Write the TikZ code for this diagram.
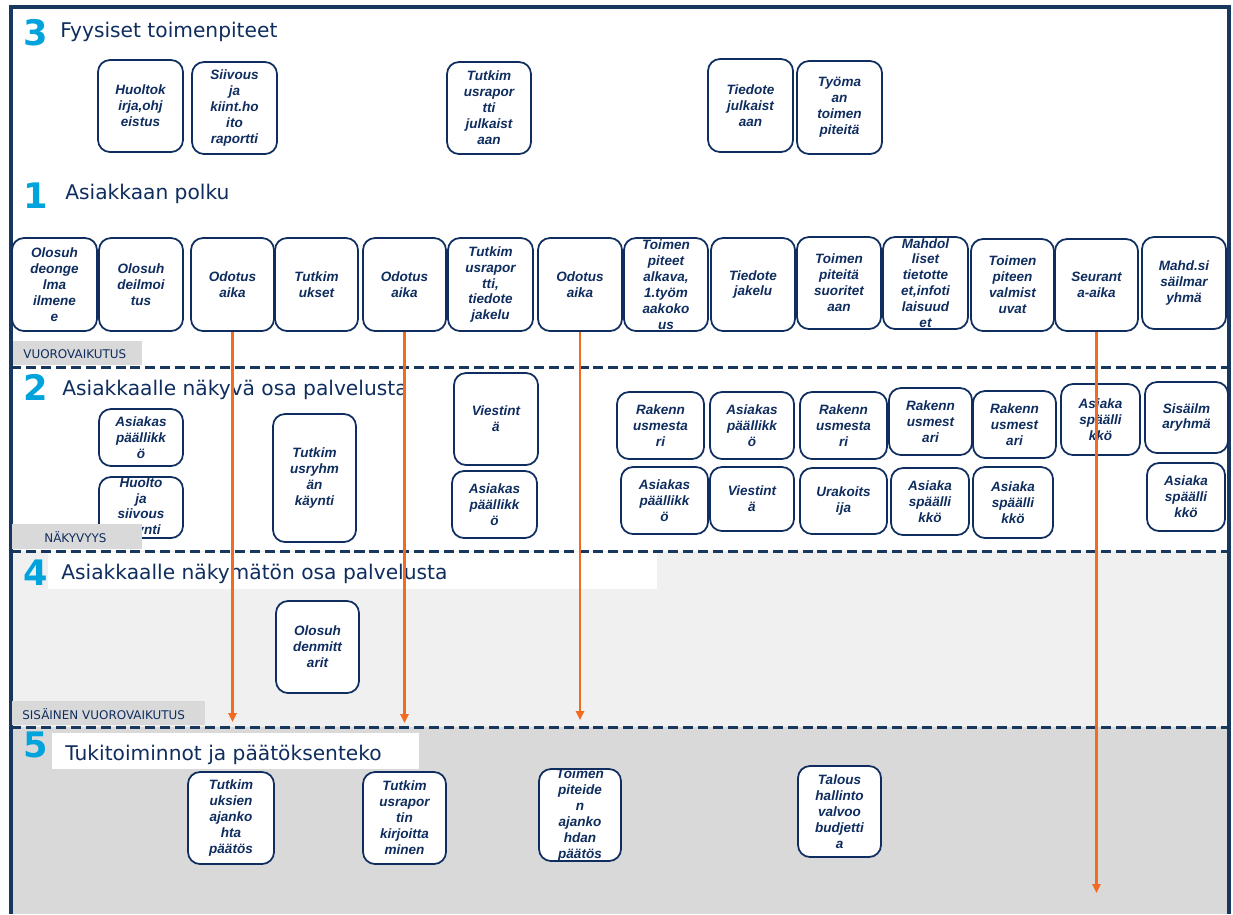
\documentclass[tikz,border=0pt]{standalone}
\usepackage{fontspec}
\setmainfont{Liberation Sans}
\newfontfamily\headfont{DejaVu Sans}
\usetikzlibrary{arrows.meta}

\definecolor{navy}{HTML}{0F2D5E}
\definecolor{framenavy}{HTML}{17375E}
\definecolor{numcyan}{HTML}{00A3DB}
\definecolor{floworange}{HTML}{F26B21}
\definecolor{lanelight}{HTML}{F0F0F0}
\definecolor{lanedark}{HTML}{D9D9D9}
\definecolor{tagfill}{HTML}{D9D9D9}

\tikzset{
  card/.style={draw=navy, line width=1pt, rounded corners=0.24cm, fill=white},
  cardtext/.style={text=navy, align=center, inner sep=0pt,
    font=\fontsize{7.7}{9.07}\selectfont\bfseries\itshape},
  secnum/.style={text=numcyan, inner sep=0pt, anchor=base west,
    font=\headfont\bfseries\fontsize{20}{20}\selectfont},
  sectitle/.style={text=navy, inner sep=0pt, anchor=base west,
    font=\headfont\fontsize{11.5}{12}\selectfont},
  tagtext/.style={text=navy, inner sep=0pt, anchor=base west,
    font=\headfont\fontsize{6.8}{7}\selectfont},
  laneline/.style={draw=framenavy, line width=1.7pt, dash pattern=on 5.7pt off 2.8pt},
  flow/.style={draw=floworange, line width=1.3pt, -{Triangle[length=5pt,width=4.5pt]}}
}

% card: name, x1, y1, x2, y2, text
\newcommand{\boxcard}[6]{%
  \node[card, minimum width={(#4-#2)*0.02cm}, minimum height={(#5-#3)*0.02cm}] (#1) at ({(#2+#4)/2},{(#3+#5)/2}) {};
  \node[cardtext] (#1-t) at (#1.center) {#6};}

\begin{document}
\begin{tikzpicture}[x=0.02cm, y=-0.02cm]
\useasboundingbox (0,0) rectangle (1233,914);
\fill[white] (0,0) rectangle (1233,914);

% lanes
\fill[lanelight] (11,551) rectangle (1229,727);
\fill[lanedark] (11,727) rectangle (1229,914);
\fill[white] (48,552) rectangle (657,589);
\fill[white] (52,733) rectangle (419,769);
\draw[laneline] (11,367) -- (1229,367);
\draw[laneline] (11,551) -- (1229,551);
\draw[laneline] (11,727) -- (1229,727);
\draw[framenavy, line width=1.9pt] (11,914) -- (11,7) -- (1229,7) -- (1229,914);

% headings
\node[secnum] (n3) at (23,45) {3};
\node[sectitle] (t3) at (60,37) {Fyysiset toimenpiteet};
\node[secnum] (n1) at (23,208) {1};
\node[sectitle] (t1) at (65,199) {Asiakkaan polku};
\node[secnum] (n2) at (23,400) {2};
\node[sectitle] (t2) at (62,395) {Asiakkaalle näkyvä osa palvelusta};
\node[secnum] (n4) at (23,585) {4};
\node[sectitle] (t4) at (61,579) {Asiakkaalle näkymätön osa palvelusta};
\node[secnum] (n5) at (23,757) {5};
\node[sectitle] (t5) at (65,760) {Tukitoiminnot ja päätöksenteko};

% 3 Fyysiset toimenpiteet
\boxcard{huolto}{98}{60}{183}{152}{Huoltok\\irja,ohj\\eistus}
\boxcard{siivous}{192}{62}{277}{154}{Siivous\\ja\\kiint.ho\\ito\\raportti}
\boxcard{rapjulk}{447}{62}{531}{154}{Tutkim\\usrapor\\tti\\julkaist\\aan}
\boxcard{tiedjulk}{708}{59}{793}{152}{Tiedote\\julkaist\\aan}
\boxcard{tyomaa}{797}{61}{882}{154}{Työma\\an\\toimen\\piteitä}

% 1 Asiakkaan polku
\boxcard{ongelma}{12}{238}{97}{331}{Olosuh\\deonge\\lma\\ilmene\\e}
\boxcard{ilmoitus}{99}{238}{183}{331}{Olosuh\\deilmoi\\tus}
\boxcard{odotusA}{191}{238}{274}{331}{Odotus\\aika}
\boxcard{tutkim}{275}{238}{358}{331}{Tutkim\\ukset}
\boxcard{odotusB}{363}{238}{446}{331}{Odotus\\aika}
\boxcard{raportti}{448}{238}{533}{331}{Tutkim\\usrapor\\tti,\\tiedote\\jakelu}
\boxcard{odotusC}{538}{238}{622}{331}{Odotus\\aika}
\boxcard{alkava}{624}{238}{708}{331}{Toimen\\piteet\\alkava,\\1.työm\\aakoko\\us}
\boxcard{jakelu}{711}{238}{795}{331}{Tiedote\\jakelu}
\boxcard{suorit}{797}{237}{881}{329}{Toimen\\piteitä\\suoritet\\aan}
\boxcard{infot}{883}{237}{968}{329}{Mahdol\\liset\\tietotte\\et,infoti\\laisuud\\et}
\boxcard{valmis}{971}{239}{1054}{331}{Toimen\\piteen\\valmist\\uvat}
\boxcard{seuranta}{1055}{239}{1138}{331}{Seurant\\a-aika}
\boxcard{sisailma}{1142}{237}{1226}{329}{Mahd.si\\säilmar\\yhmä}

% 2 Asiakkaalle nakyva osa
\boxcard{apA}{99}{409}{183}{466}{Asiakas\\päällikk\\ö}
\boxcard{kaynti}{99}{477}{183}{538}{Huolto\\ja\\siivous\\käynti}
\boxcard{ryhma}{273}{414}{356}{542}{Tutkim\\usryhm\\än\\käynti}
\boxcard{viestA}{454}{373}{538}{465}{Viestint\\ä}
\boxcard{apB}{452}{471}{537}{538}{Asiakas\\päällikk\\ö}
\boxcard{rmA}{617}{392}{704}{459}{Rakenn\\usmesta\\ri}
\boxcard{apC}{710}{392}{794}{459}{Asiakas\\päällikk\\ö}
\boxcard{rmB}{800}{392}{887}{459}{Rakenn\\usmesta\\ri}
\boxcard{rmC}{889}{388}{972}{455}{Rakenn\\usmest\\ari}
\boxcard{rmD}{973}{391}{1056}{458}{Rakenn\\usmest\\ari}
\boxcard{apD}{1061}{384}{1140}{455}{Asiaka\\späälli\\kkö}
\boxcard{sisryhma}{1145}{382}{1228}{453}{Sisäilm\\aryhmä}
\boxcard{apE}{621}{467}{708}{534}{Asiakas\\päällikk\\ö}
\boxcard{viestB}{710}{467}{794}{531}{Viestint\\ä}
\boxcard{urakoit}{800}{468}{887}{534}{Urakoits\\ija}
\boxcard{apF}{891}{468}{969}{535}{Asiaka\\späälli\\kkö}
\boxcard{apG}{973}{467}{1053}{538}{Asiaka\\späälli\\kkö}
\boxcard{apH}{1147}{463}{1225}{531}{Asiaka\\späälli\\kkö}

% 4 Asiakkaalle nakymaton osa
\boxcard{mittarit}{276}{601}{359}{693}{Olosuh\\denmitt\\arit}

% 5 Tukitoiminnot
\boxcard{ajankohta}{188}{772}{274}{864}{Tutkim\\uksien\\ajanko\\hta\\päätös}
\boxcard{kirjoitus}{363}{772}{446}{864}{Tutkim\\usrapor\\tin\\kirjoitta\\minen}
\boxcard{toimpaat}{539}{769}{621}{861}{Toimen\\piteide\\n\\ajanko\\hdan\\päätös}
\boxcard{budjetti}{798}{766}{881}{857}{Talous\\hallinto\\valvoo\\budjetti\\a}

% lane tags
\fill[tagfill] (13,341) rectangle (142,365);
\node[tagtext] (tagA) at (23,358) {VUOROVAIKUTUS};
\fill[tagfill] (12,524) rectangle (142,549);
\node[tagtext] (tagB) at (44,542) {NÄKYVYYS};
\fill[tagfill] (12,701) rectangle (205,725);
\node[tagtext] (tagC) at (22,719) {SISÄINEN VUOROVAIKUTUS};

% waiting arrows
\coordinate (tipA) at (232.5,722);
\coordinate (tipB) at (404.5,723);
\coordinate (tipC) at (580,720);
\coordinate (tipD) at (1096.5,893);
\draw[flow] (odotusA.south) -- (tipA);
\draw[flow] (odotusB.south) -- (tipB);
\draw[flow] (odotusC.south) -- (tipC);
\draw[flow] (seuranta.south) -- (tipD);
\end{tikzpicture}
\end{document}
